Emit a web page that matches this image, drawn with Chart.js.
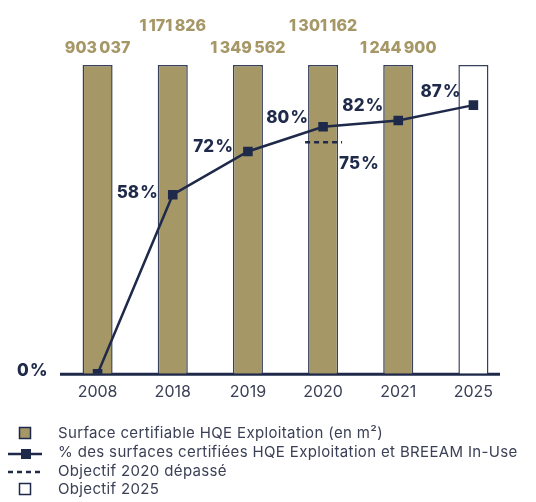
<!DOCTYPE html>
<html lang="fr">
<head>
<meta charset="utf-8">
<script src="https://cdn.jsdelivr.net/npm/chart.js@4.4.0/dist/chart.umd.min.js"></script>
<style>
  html, body { margin: 0; padding: 0; background: #fff; }
  #wrap { position: relative; width: 536px; height: 502px; }
</style>
</head>
<body>
<div id="wrap"><canvas id="hqeChart"></canvas></div>
<script>
// Données
const years = ['2008', '2018', '2019', '2020', '2021', '2025'];
const surfaces = [903037, 1171826, 1349562, 1301162, 1244900, null];   // m² certifiables
const surfaceShare = [100, 100, 100, 100, 100, 100];                   // barre = 100 % de la surface
const certifiedPct = [0, 58, 72, 80, 82, 87];
const objective2020 = 75;
const objectiveYear = '2020';
const legendLabels = [
    'Surface certifiable HQE Exploitation (en m²)',
    '% des surfaces certifiées HQE Exploitation et BREEAM In-Use',
    'Objectif 2020 dépassé',
    'Objectif 2025'
];

const gold = '#a69767';
const navy = '#1f2a4b';
const barEdge = '#37415c';
const textGrey = '#3b4056';
const fontFamily = "Inter, 'Open Sans', sans-serif";

// position des étiquettes % par rapport au point
const pctLabelPos = [
    { dx: -50, dy: -3, align: 'right' },
    { dx: -15, dy: -2, align: 'right' },
    { dx: -15, dy: -5, align: 'right' },
    { dx: -15, dy: -9, align: 'right' },
    { dx: -15, dy: -15, align: 'right' },
    { dx: -13, dy: -13, align: 'right' }
];
const objectiveLabelPos = { dx: 16, dy: 22, align: 'left' };

const fmtNum = new Intl.NumberFormat('fr-FR');
const fmtPct = (v) => v + '\u200A%';

const labelsPlugin = {
    id: 'labelsPlugin',
    beforeDatasetsDraw(chart) {
        // ligne de base, un peu plus courte que la zone du graphique
        const ctx = chart.ctx;
        const area = chart.chartArea;
        ctx.save();
        ctx.strokeStyle = navy;
        ctx.lineWidth = 3;
        ctx.beginPath();
        ctx.moveTo(area.left, area.bottom + 0.5);
        ctx.lineTo(area.right - 11, area.bottom + 0.5);
        ctx.stroke();
        ctx.restore();
    },
    afterDatasetsDraw(chart) {
        const ctx = chart.ctx;
        const x = chart.scales.x;
        const y = chart.scales.y;
        ctx.save();

        // objectif 2020 en pointillés
        const xo = x.getPixelForValue(years.indexOf(objectiveYear));
        const yo = y.getPixelForValue(objective2020);
        ctx.strokeStyle = navy;
        ctx.lineWidth = 2.5;
        ctx.setLineDash([5, 4]);
        ctx.beginPath();
        ctx.moveTo(xo - 18, yo);
        ctx.lineTo(xo + 19, yo);
        ctx.stroke();
        ctx.setLineDash([]);

        // surfaces au-dessus des barres
        ctx.font = `800 16px ${fontFamily}`;
        ctx.fillStyle = gold;
        ctx.textAlign = 'center';
        ctx.textBaseline = 'middle';
        const top = y.getPixelForValue(100);
        surfaces.forEach((v, i) => {
            if (v == null) return;
            const lift = i % 2 ? 39 : 17;
            ctx.fillText(fmtNum.format(v), x.getPixelForValue(i), top - lift);
        });

        // pourcentages
        ctx.font = `800 17px ${fontFamily}`;
        ctx.fillStyle = navy;
        certifiedPct.forEach((v, i) => {
            const p = pctLabelPos[i];
            ctx.textAlign = p.align;
            ctx.fillText(fmtPct(v), x.getPixelForValue(i) + p.dx, y.getPixelForValue(v) + p.dy);
        });
        ctx.textAlign = objectiveLabelPos.align;
        ctx.fillText(fmtPct(objective2020), xo + objectiveLabelPos.dx, yo + objectiveLabelPos.dy);
        ctx.restore();
    },
    afterDraw(chart) {
        // légende
        const ctx = chart.ctx;
        const rows = [433, 452, 471, 489];
        ctx.save();
        ctx.font = `400 15px ${fontFamily}`;
        ctx.letterSpacing = '0.35px';
        ctx.fillStyle = textGrey;
        ctx.textAlign = 'left';
        ctx.textBaseline = 'middle';
        legendLabels.forEach((t, i) => ctx.fillText(t, 58, rows[i]));

        ctx.lineWidth = 1.5;
        ctx.strokeStyle = navy;
        ctx.fillStyle = gold;
        ctx.fillRect(19.5, rows[0] - 5.5, 11, 11);
        ctx.strokeRect(19.5, rows[0] - 5.5, 11, 11);

        ctx.lineWidth = 2.5;
        ctx.beginPath();
        ctx.moveTo(8, rows[1] + 2);
        ctx.lineTo(42, rows[1] + 2);
        ctx.stroke();
        ctx.fillStyle = navy;
        ctx.fillRect(21, rows[1] - 3, 10, 10);

        ctx.setLineDash([5, 4]);
        ctx.beginPath();
        ctx.moveTo(8, rows[2] + 1);
        ctx.lineTo(44, rows[2] + 1);
        ctx.stroke();
        ctx.setLineDash([]);

        ctx.lineWidth = 1.5;
        ctx.fillStyle = '#fff';
        ctx.fillRect(19.5, rows[3] - 5.5, 11, 11);
        ctx.strokeRect(19.5, rows[3] - 5.5, 11, 11);
        ctx.restore();
    }
};

const ctx = document.getElementById('hqeChart');
new Chart(ctx, {
    data: {
        labels: years,
        datasets: [{
            type: 'line',
            data: certifiedPct,
            borderColor: navy,
            backgroundColor: navy,
            borderWidth: 2.5,
            tension: 0,
            pointStyle: 'rect',
            pointRadius: 5,
            pointHoverRadius: 5,
            order: 0
        }, {
            type: 'bar',
            data: surfaceShare,
            backgroundColor: years.map((yr) => yr === '2025' ? '#ffffff' : gold),
            borderColor: barEdge,
            borderWidth: 1.5,
            categoryPercentage: 1,
            barPercentage: 0.4,
            order: 1
        }]
    },
    options: {
        responsive: true,
        maintainAspectRatio: false,
        animation: false,
        layout: {
            padding: { left: 60, right: 25, top: 65, bottom: 91 }
        },
        plugins: {
            legend: { display: false },
            tooltip: { enabled: false }
        },
        scales: {
            y: {
                display: false,
                min: 0,
                max: 100
            },
            x: {
                grid: { display: false, drawTicks: false },
                border: { display: false },
                ticks: {
                    color: textGrey,
                    padding: 9,
                    font: { size: 16, family: fontFamily }
                }
            }
        }
    },
    plugins: [labelsPlugin]
});
</script>
</body>
</html>
